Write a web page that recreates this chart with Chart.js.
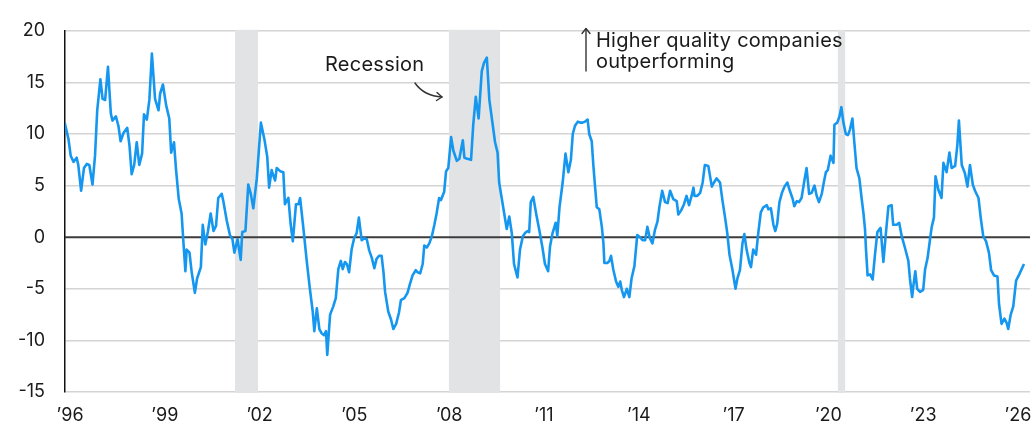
<!DOCTYPE html>
<html>
<head>
<meta charset="utf-8">
<script src="https://cdn.jsdelivr.net/npm/chart.js@4.4.1/dist/chart.umd.min.js"></script>
<style>
  html, body { margin: 0; padding: 0; background: #fff; }
</style>
</head>
<body>
<canvas id="myChart" width="1035" height="425"></canvas>
<script>
// =========================================================
// Data (decimal years)
const dates = [
  1995.81, 1995.83, 1995.95, 1996.02, 1996.11, 1996.21, 1996.26, 1996.35, 1996.44, 1996.53, 1996.61, 1996.71, 1996.79, 1996.86, 1996.96,
  1997.03, 1997.11, 1997.20, 1997.29, 1997.34, 1997.45, 1997.53, 1997.60, 1997.69, 1997.81, 1997.88, 1997.95,
  1998.03, 1998.11, 1998.19, 1998.28, 1998.34, 1998.43, 1998.51, 1998.59, 1998.69, 1998.80, 1998.85, 1998.94,
  1999.04, 1999.14, 1999.20, 1999.29, 1999.35, 1999.44, 1999.53, 1999.59, 1999.65, 1999.69, 1999.78, 1999.85, 1999.95,
  2000.02, 2000.14, 2000.20, 2000.28, 2000.36, 2000.45, 2000.54, 2000.62, 2000.69, 2000.80, 2000.85, 2000.96,
  2001.06, 2001.14, 2001.20, 2001.30, 2001.40, 2001.45, 2001.55, 2001.64, 2001.72, 2001.80, 2001.91,
  2002.04, 2002.15, 2002.24, 2002.30, 2002.38, 2002.43, 2002.49, 2002.54, 2002.65, 2002.75, 2002.80, 2002.91, 2002.98,
  2003.05, 2003.15, 2003.23, 2003.28, 2003.38, 2003.49, 2003.59, 2003.68, 2003.73, 2003.81, 2003.89, 2003.96,
  2004.04, 2004.10, 2004.14, 2004.23, 2004.33, 2004.41, 2004.49, 2004.57, 2004.63, 2004.70, 2004.76, 2004.83, 2004.91, 2004.99,
  2005.07, 2005.14, 2005.23, 2005.31, 2005.39, 2005.47, 2005.55, 2005.63, 2005.70, 2005.78, 2005.86, 2005.92, 2005.97,
  2006.07, 2006.16, 2006.23, 2006.32, 2006.41, 2006.47, 2006.58, 2006.68, 2006.76, 2006.84, 2006.94,
  2007.00, 2007.08, 2007.16, 2007.21, 2007.29, 2007.37, 2007.45, 2007.53, 2007.60, 2007.68, 2007.74, 2007.84, 2007.90, 2007.97,
  2008.06, 2008.13, 2008.24, 2008.32, 2008.43, 2008.48, 2008.57, 2008.69, 2008.76, 2008.84, 2008.93,
  2009.03, 2009.10, 2009.19, 2009.27, 2009.38, 2009.45, 2009.53, 2009.58, 2009.66, 2009.74, 2009.82, 2009.90, 2009.98,
  2010.05, 2010.16, 2010.24, 2010.33, 2010.40, 2010.48, 2010.53, 2010.58, 2010.66, 2010.75, 2010.85, 2010.95,
  2011.03, 2011.13, 2011.19, 2011.27, 2011.37, 2011.42, 2011.49, 2011.59, 2011.68, 2011.77, 2011.85, 2011.91, 2011.98,
  2012.07, 2012.14, 2012.22, 2012.30, 2012.38, 2012.43, 2012.51, 2012.56, 2012.61, 2012.67, 2012.75, 2012.83, 2012.88, 2012.91,
  2013.00, 2013.07, 2013.12, 2013.19, 2013.28, 2013.35, 2013.41, 2013.46, 2013.53, 2013.62, 2013.70, 2013.77, 2013.86, 2013.95,
  2014.04, 2014.12, 2014.20, 2014.27, 2014.35, 2014.43, 2014.51, 2014.59, 2014.65, 2014.74, 2014.83, 2014.91, 2014.99,
  2015.09, 2015.20, 2015.25, 2015.34, 2015.43, 2015.51, 2015.59, 2015.67, 2015.73, 2015.76, 2015.85, 2015.94,
  2016.02, 2016.09, 2016.20, 2016.31, 2016.38, 2016.46, 2016.57, 2016.65, 2016.73, 2016.80, 2016.87, 2016.96,
  2017.06, 2017.12, 2017.20, 2017.28, 2017.34, 2017.41, 2017.50, 2017.55, 2017.62, 2017.71, 2017.78, 2017.86, 2017.94,
  2018.05, 2018.10, 2018.18, 2018.26, 2018.32, 2018.38, 2018.45, 2018.53, 2018.61, 2018.70, 2018.78, 2018.87, 2018.92,
  2019.00, 2019.07, 2019.15, 2019.24, 2019.31, 2019.39, 2019.47, 2019.56, 2019.63, 2019.70, 2019.79, 2019.86, 2019.92, 2019.98,
  2020.07, 2020.16, 2020.19, 2020.28, 2020.35, 2020.41, 2020.47, 2020.55, 2020.62, 2020.68, 2020.76, 2020.82, 2020.89, 2020.98,
  2021.05, 2021.11, 2021.16, 2021.19, 2021.24, 2021.32, 2021.40, 2021.47, 2021.55, 2021.65, 2021.74, 2021.82, 2021.90,
  2022.00, 2022.05, 2022.16, 2022.24, 2022.32, 2022.42, 2022.53, 2022.58, 2022.65, 2022.69, 2022.75, 2022.81, 2022.90,
  2023.00, 2023.06, 2023.14, 2023.22, 2023.27, 2023.34, 2023.39, 2023.48, 2023.58, 2023.64, 2023.74, 2023.83, 2023.90,
  2024.01, 2024.08, 2024.13, 2024.22, 2024.32, 2024.40, 2024.48, 2024.57, 2024.64, 2024.75, 2024.82, 2024.90, 2024.99,
  2025.08, 2025.15, 2025.24, 2025.35, 2025.40, 2025.48, 2025.57, 2025.64, 2025.69, 2025.77, 2025.85, 2025.94, 2026.04, 2026.19
];

const values = [
  14.2, 11.1, 9.5, 7.9, 7.3, 7.7, 7.0, 4.5, 6.7, 7.1, 7.0, 5.1, 7.9, 12.3, 15.3,
  13.4, 13.3, 16.5, 12.0, 11.3, 11.7, 10.8, 9.3, 10.1, 10.6, 8.9, 6.1,
  7.0, 9.2, 7.0, 8.1, 11.9, 11.4, 13.3, 17.8, 13.4, 12.3, 13.9, 14.8,
  12.8, 11.5, 8.2, 9.2, 6.7, 3.7, 2.3, -0.6, -3.3, -1.2, -1.5, -3.4, -5.4,
  -4.0, -2.9, 1.2, -0.7, 0.5, 2.3, 0.6, 1.1, 3.8, 4.2, 3.5, 1.6,
  0.2, -0.2, -1.5, -0.2, -2.2, 0.5, 0.6, 5.1, 4.2, 2.8, 5.7,
  11.1, 9.5, 7.8, 4.8, 6.5, 6.0, 5.5, 6.7, 6.4, 6.3, 3.2, 3.8, 1.3,
  -0.4, 3.2, 3.2, 3.8, 1.0, -2.3, -5.0, -7.2, -9.1, -6.9, -8.9, -9.3,
  -9.5, -9.1, -11.4, -7.5, -6.7, -5.9, -3.1, -2.3, -3.1, -2.4, -2.6, -3.4, -1.2, -0.1,
  0.4, 1.9, -0.3, -0.1, -0.2, -1.3, -2.0, -3.0, -2.1, -1.8, -1.8, -3.4, -5.3,
  -7.2, -8.0, -8.9, -8.4, -7.3, -6.1, -5.9, -5.4, -4.5, -3.7, -3.2,
  -3.4, -3.5, -2.6, -0.8, -1.0, -0.6, 0.1, 1.2, 2.3, 3.8, 3.6, 4.4, 6.4, 6.7,
  9.7, 8.4, 7.4, 7.6, 9.4, 7.7, 7.6, 7.5, 10.9, 13.6, 11.5,
  16.1, 16.9, 17.4, 13.3, 10.8, 9.2, 8.2, 5.3, 3.8, 2.3, 0.8, 2.0, 0.4,
  -2.6, -3.9, -1.2, 0.1, 0.4, 0.6, 0.5, 3.4, 3.9, 2.3, 0.7, -1.0,
  -2.6, -3.3, -0.9, 0.4, 1.4, 0.1, 2.9, 5.3, 8.1, 6.3, 7.5, 10.0, 10.8,
  11.2, 11.1, 11.1, 11.2, 11.4, 10.0, 9.3, 7.0, 5.1, 2.9, 2.7, 1.0, -0.6, -2.5,
  -2.5, -2.3, -1.8, -3.1, -4.3, -4.8, -4.3, -5.1, -5.8, -5.0, -5.8, -4.0, -2.8, 0.2,
  0.0, -0.3, -0.3, 1.0, -0.1, -0.6, 0.7, 1.5, 2.9, 4.5, 3.4, 3.3, 4.5,
  3.7, 3.5, 2.2, 2.6, 3.2, 4.0, 3.1, 4.0, 4.8, 4.0, 4.0, 4.3,
  5.3, 7.0, 6.9, 4.9, 5.3, 5.7, 5.3, 3.5, 1.9, 0.4, -1.7, -3.1,
  -5.0, -4.0, -3.2, -0.6, 0.3, -1.2, -2.5, -2.9, -1.2, -1.7, 0.4, 2.4, 2.9,
  3.1, 2.7, 2.8, 1.2, 0.6, 1.3, 3.4, 4.3, 4.9, 5.3, 4.5, 3.7, 3.0,
  3.5, 3.4, 3.8, 5.5, 6.7, 4.2, 4.3, 5.0, 4.0, 3.4, 4.2, 5.4, 6.3, 6.5,
  7.9, 7.2, 10.9, 11.1, 11.7, 12.6, 11.2, 10.0, 9.9, 10.4, 11.5, 9.2, 6.7, 5.7,
  3.8, 2.3, 0.7, -1.2, -3.7, -3.6, -4.1, -1.8, 0.5, 0.9, -2.4, 0.4, 3.0,
  3.1, 1.2, 1.2, 1.4, 0.1, -1.0, -2.3, -4.0, -5.8, -4.7, -3.3, -5.0, -5.3,
  -5.1, -3.1, -2.0, -0.1, 1.0, 1.9, 5.9, 4.6, 3.8, 7.2, 6.3, 8.2, 6.7,
  6.9, 8.9, 11.3, 7.0, 6.2, 4.9, 7.0, 5.1, 4.5, 3.8, 1.9, 0.1, -0.4,
  -1.5, -3.2, -3.7, -3.8, -6.5, -8.4, -7.9, -8.3, -8.9, -7.5, -6.7, -4.2, -3.6, -2.6
];

// Recession bands [start, end]
const recessionStarts = [2001.22, 2007.99, 2020.30];
const recessionEnds = [2001.95, 2009.61, 2020.53];

// Axis ticks
const xTickYears = [1996, 1999, 2002, 2005, 2008, 2011, 2014, 2017, 2020, 2023, 2026];
const yTickValues = [-15, -10, -5, 0, 5, 10, 15, 20];

// Style
const FONT = 'Inter, "Noto Sans", sans-serif';
const lineColor = '#1597f0';
const gridColor = '#d4d4d4';
const zeroLineColor = '#3c3c3c';
const recessionColor = '#e2e3e5';
const textColor = '#1a1a1a';

// =======================
// Plugins
// =======================
const recessionPlugin = {
  id: 'recessions',
  beforeDatasetsDraw(chart) {
    const { ctx, chartArea, scales } = chart;
    ctx.save();
    ctx.fillStyle = recessionColor;
    recessionStarts.forEach((s, i) => {
      const x1 = scales.x.getPixelForValue(s);
      const x2 = scales.x.getPixelForValue(recessionEnds[i]);
      ctx.fillRect(x1, chartArea.top - 1, x2 - x1, chartArea.bottom - chartArea.top + 2);
    });
    // zero line
    const y0 = scales.y.getPixelForValue(0);
    ctx.strokeStyle = zeroLineColor;
    ctx.lineWidth = 2;
    ctx.beginPath();
    ctx.moveTo(chartArea.left, y0);
    ctx.lineTo(chartArea.right, y0);
    ctx.stroke();
    ctx.restore();
  }
};

const notesPlugin = {
  id: 'notes',
  afterDraw(chart) {
    const c = chart.ctx;
    c.save();
    c.fillStyle = textColor;
    c.font = '20px ' + FONT;
    c.letterSpacing = '0.25px';
    c.textBaseline = 'alphabetic';
    c.fillText('Recession', 325, 71);
    c.fillText('Higher quality companies', 596, 47);
    c.fillText('outperforming', 596, 68);

    c.strokeStyle = '#333';
    c.lineWidth = 1.4;
    c.lineCap = 'round';
    c.lineJoin = 'round';
    // curved arrow to the 2008 band
    c.beginPath();
    c.moveTo(415, 83);
    c.quadraticCurveTo(424, 96, 442, 97);
    c.stroke();
    c.beginPath();
    c.moveTo(437, 92.5);
    c.lineTo(442, 97);
    c.lineTo(436.5, 100.5);
    c.stroke();
    // up arrow
    c.beginPath();
    c.moveTo(586, 71);
    c.lineTo(586, 29);
    c.stroke();
    c.beginPath();
    c.moveTo(582, 33.5);
    c.lineTo(586, 28.5);
    c.lineTo(590, 33.5);
    c.stroke();
    c.restore();
  }
};

// =======================
// Chart Configuration
// =======================
const ctx = document.getElementById('myChart').getContext('2d');

new Chart(ctx, {
  type: 'line',
  data: {
    datasets: [{
      data: dates.map((d, i) => ({ x: d, y: values[i] })),
      borderColor: lineColor,
      borderWidth: 2.6,
      pointRadius: 0,
      tension: 0,
      fill: false,
      borderJoinStyle: 'round'
    }]
  },
  options: {
    responsive: false,
    animation: false,
    layout: { padding: { top: 24, right: 5, left: 0, bottom: 0 } },
    plugins: {
      legend: { display: false },
      tooltip: { enabled: false }
    },
    scales: {
      x: {
        type: 'linear',
        min: 1995.84,
        max: 2026.38,
        grid: { display: false, drawTicks: false },
        border: { display: false },
        afterBuildTicks: s => { s.ticks = xTickYears.map(v => ({ value: v })); },
        afterFit: s => {
          s.height = 33;
          s.paddingLeft = 0;
          s.paddingRight = 0;
        },
        ticks: {
          padding: 13,
          color: textColor,
          autoSkip: false,
          maxRotation: 0,
          font: { family: FONT, size: 18 },
          callback: v => '\u2019' + String(v).slice(2)
        }
      },
      y: {
        min: -15,
        max: 20,
        afterBuildTicks: s => { s.ticks = yTickValues.map(v => ({ value: v })); },
        afterFit: s => { s.width = 65; },
        grid: {
          color: c => (c.tick && c.tick.value === 0) ? 'rgba(0,0,0,0)' : gridColor,
          lineWidth: 1.5,
          drawTicks: false
        },
        border: { display: true, color: '#111', width: 1.5 },
        ticks: {
          padding: 20,
          color: textColor,
          font: { family: FONT, size: 18 }
        }
      }
    }
  },
  plugins: [recessionPlugin, notesPlugin]
});
</script>
</body>
</html>
